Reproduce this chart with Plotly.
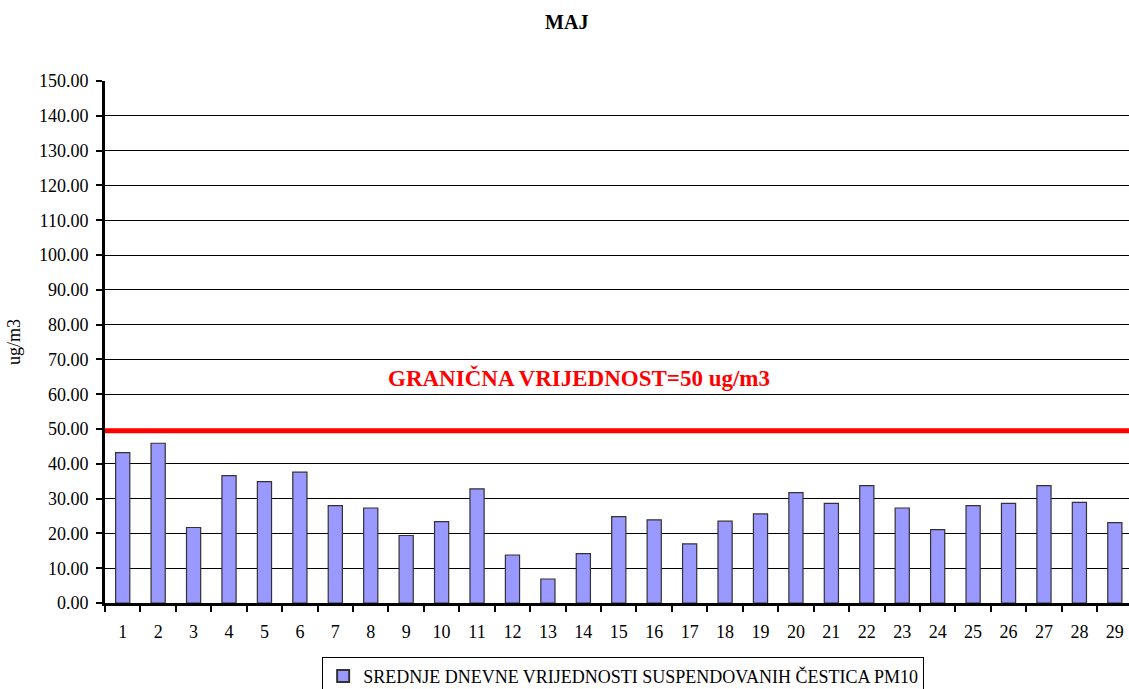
import plotly.graph_objects as go

days = [str(d) for d in range(1, 30)]
pm10 = [43.2, 45.9, 21.7, 36.6, 34.9, 37.6, 28.0, 27.3, 19.4, 23.4,
        32.8, 13.8, 6.9, 14.2, 24.8, 23.9, 17.0, 23.5, 25.6, 31.7,
        28.6, 33.7, 27.3, 21.1, 28.0, 28.6, 33.7, 28.9, 23.1]
limit_line = 49.5  # red line as drawn in the source
limit_text = "GRANIČNA VRIJEDNOST=50 ug/m3"
series_name = "SREDNJE DNEVNE VRIJEDNOSTI SUSPENDOVANIH ČESTICA PM10"

serif = "Liberation Serif"

fig = go.Figure()
fig.add_trace(go.Bar(
    x=days, y=pm10, name=series_name, width=0.4,
    marker=dict(color="#9999FF", line=dict(color="#333333", width=1.2)),
    showlegend=True,
))

fig.add_shape(type="line", xref="paper", yref="y", x0=0, x1=1,
              y0=limit_line, y1=limit_line,
              line=dict(color="#FF0000", width=5), layer="above")

fig.add_annotation(text="<b>" + limit_text + "</b>", xref="paper", yref="paper",
                   x=0.463, y=0.431, showarrow=False,
                   font=dict(family=serif, size=23, color="#FF0000"))

fig.update_layout(
    width=1129, height=689,
    margin=dict(l=105, r=0, t=81, b=86, autoexpand=False),
    paper_bgcolor="white", plot_bgcolor="white",
    font=dict(family=serif, size=18, color="#000"),
    title=dict(text="<b>MAJ</b>", x=0.502, xanchor="center", y=0.968, yanchor="middle",
               font=dict(family=serif, size=20)),
    showlegend=True,
    legend=dict(orientation="h", x=0.506, xanchor="center", y=-0.103, yanchor="top",
                bordercolor="#000", borderwidth=1, bgcolor="white",
                font=dict(family=serif, size=18), itemsizing="constant"),
    bargap=0.6,
)

fig.update_xaxes(
    type="category", range=[-0.5, 28.4], automargin=False,
    showline=True, linecolor="#000", linewidth=3,
    ticks="outside", tickson="boundaries", ticklen=6, tickwidth=2, tickcolor="#000",
    ticklabelstandoff=10,
    showgrid=False, tickfont=dict(family=serif, size=18),
)
fig.update_yaxes(
    range=[0, 150], dtick=10, tickformat=".2f", automargin=False,
    showline=True, linecolor="#000", linewidth=3,
    ticks="outside", ticklen=6, tickwidth=2, tickcolor="#000",
    ticklabelstandoff=4,
    showgrid=True, gridcolor="#000", gridwidth=1, zeroline=False,
    title=dict(text="ug/m3", font=dict(family=serif, size=18), standoff=14),
    tickfont=dict(family=serif, size=18),
)

# drop the page's default body margin so the figure fills the window
fig.write_html("out.html", config={"displayModeBar": False},
               post_script="document.body.style.margin='0';document.body.style.overflow='hidden';")
